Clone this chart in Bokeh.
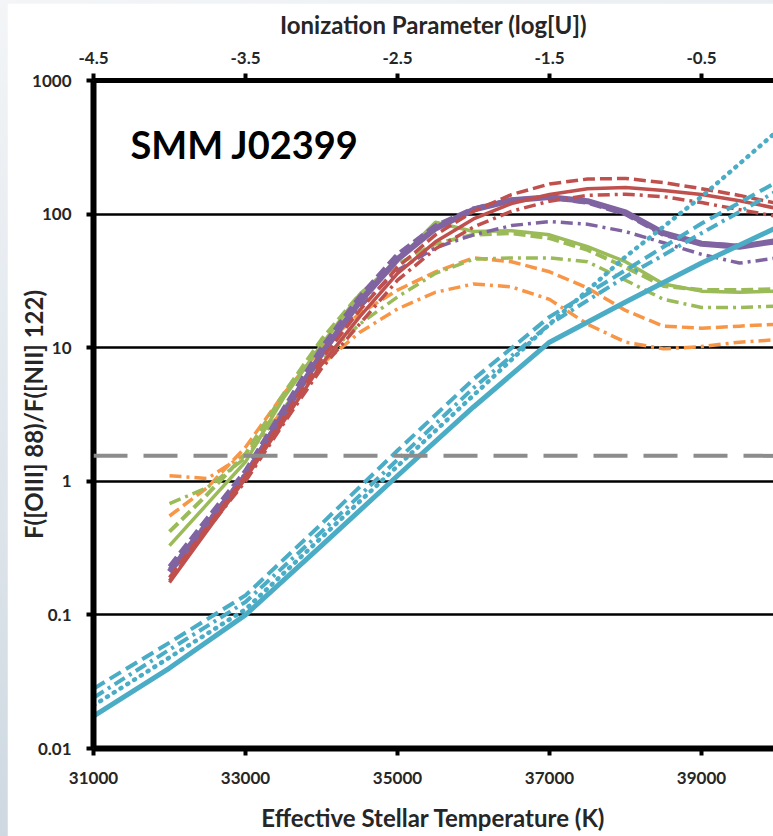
from bokeh.plotting import figure
from bokeh.models import Range1d, LinearAxis, FixedTicker, Label, Span, ColumnDataSource
from bokeh.layouts import column
from bokeh.embed import file_html
from bokeh.resources import INLINE

# ---------------- data ----------------
temps = [32000, 32500, 33000, 33500, 34000, 34500, 35000, 35500, 36000,
         36500, 37000, 37500, 38000, 38500, 39000, 39500, 40000]

red_solid = [0.175, 0.43, 1.05, 2.8, 7.5, 17, 36, 62, 92, 120, 140, 155, 158, 150, 140, 126, 110]
red_dashed = [0.19, 0.46, 1.1, 3.0, 8.2, 19, 40, 70, 105, 140, 168, 183, 185, 172, 155, 138, 120]
red_dashdot = [0.18, 0.44, 1.0, 2.7, 7.0, 15, 32, 55, 80, 105, 125, 138, 141, 135, 122, 108, 96]

purple_solid = [0.21, 0.48, 1.1, 3.2, 9, 22, 46, 78, 108, 127, 134, 125, 103, 72, 60, 57, 63]
purple_dashed = [0.23, 0.53, 1.2, 3.5, 10, 24, 50, 82, 110, 128, 133, 122, 100, 70, 60, 58, 62]
purple_dashdot = [0.22, 0.5, 1.15, 3.3, 9, 20, 38, 56, 70, 82, 88, 84, 74, 61, 50, 43, 47]

green_solid = [0.33, 0.68, 1.4, 4.2, 10.5, 25, 45, 87, 74, 75, 70, 57, 44, 30, 26.5, 26, 26.5]
green_dashed = [0.42, 0.8, 1.6, 4.5, 11.5, 25, 42, 60, 70, 72, 66, 54, 40, 29, 27, 27, 27.5]
green_dashdot = [0.68, 0.9, 1.5, 3.5, 8, 15, 24, 36, 46, 47, 47, 44, 32, 23, 20, 20, 20.5]

orange_dashed = [0.55, 0.9, 1.8, 4.5, 10, 18, 27, 37, 47, 44, 37, 28, 19, 14.5, 14, 14.5, 15]
orange_dashdot = [1.1, 1.05, 1.6, 3.4, 7.5, 13, 19.5, 26, 30, 28.5, 23, 15, 11, 9.8, 10.2, 11, 11.5]

cyan_temps = [31000, 32000, 33000, 34000, 35000, 36000, 37000, 38000, 39000, 40000]
cyan_solid = [0.0175, 0.040, 0.1, 0.33, 1.1, 3.6, 11, 22, 43, 80]
cyan_dotted = [0.021, 0.048, 0.11, 0.38, 1.3, 4.4, 15, 48, 135, 420]
cyan_dashdot = [0.024, 0.055, 0.125, 0.42, 1.45, 5.0, 15, 34, 72, 150]
cyan_dashed = [0.028, 0.062, 0.14, 0.48, 1.7, 5.8, 17, 38, 85, 175]

y_ticks = [0.01, 0.1, 1, 10, 100, 1000]
y_tick_labels = ["0.01", "0.1", "1", "10", "100", "1000"]
x_ticks = [31000, 33000, 35000, 37000, 39000]
u_ticks = [-4.5, -3.5, -2.5, -1.5, -0.5]
u_tick_labels = ["-4.5", "-3.5", "-2.5", "-1.5", "-0.5"]
threshold = 1.55

# ---------------- styles ----------------
RED = "#C0504D"
PURPLE = "#8064A2"
GREEN = "#9BBB59"
ORANGE = "#F79646"
CYAN = "#4BACC6"
FONT = "Lato"
DASH = "12 5"
DASHDOT = "12 5 3 5"

x_start, x_end = 31000, 39947
u_start = -4.5
u_end = u_start + (x_end - x_start) / 2000.0

p = figure(width=766, height=833, y_axis_type="log",
           x_range=Range1d(x_start, x_end), y_range=Range1d(0.01, 1000),
           output_backend="svg", toolbar_location=None,
           min_border_left=86, min_border_top=77, min_border_bottom=88,
           min_border_right=0, background_fill_color="white",
           border_fill_color="white", outline_line_color=None)

p.extra_x_ranges = {"logu": Range1d(u_start, u_end)}
top_axis = LinearAxis(x_range_name="logu", axis_label="Ionization Parameter (log[U])",
                      ticker=FixedTicker(ticks=u_ticks))
top_axis.major_label_overrides = {t: l for t, l in zip(u_ticks, u_tick_labels)}
p.add_layout(top_axis, "above")

bottom_axis = p.below[0]
bottom_axis.ticker = FixedTicker(ticks=x_ticks)
bottom_axis.axis_label = "Effective Stellar Temperature (K)"
left_axis = p.left[0]
left_axis.ticker = FixedTicker(ticks=y_ticks)
left_axis.major_label_overrides = {t: l for t, l in zip(y_ticks, y_tick_labels)}
left_axis.axis_label = "F([OIII] 88)/F([NII] 122)"

for ax in (top_axis, bottom_axis, left_axis):
    ax.axis_line_width = 6
    ax.axis_line_color = "black"
    ax.major_tick_line_width = 4
    ax.major_tick_line_color = "black"
    ax.major_tick_out = 7
    ax.major_tick_in = 0
    ax.minor_tick_line_color = None
    ax.major_label_text_font = FONT
    ax.major_label_text_font_style = "bold"
    ax.major_label_text_font_size = "17px"
    ax.major_label_text_color = "#262626"
    ax.axis_label_text_font = FONT
    ax.axis_label_text_font_style = "bold"
    ax.axis_label_text_font_size = "24px"
    ax.axis_label_text_color = "#262626"

top_axis.axis_line_width = 5
top_axis.major_label_standoff = 10
top_axis.axis_label_standoff = 10
bottom_axis.major_label_standoff = 16
bottom_axis.axis_label_standoff = 16
left_axis.major_label_standoff = 15
left_axis.axis_label_standoff = -19

p.xgrid.visible = False
p.ygrid.grid_line_color = "black"
p.ygrid.grid_line_width = 2.5

p.add_layout(Span(location=threshold, dimension="width", line_color="#8C8C8C",
                  line_width=4, line_dash="34 16"))


def draw(xs, ys, color, width, dash="solid", cap="butt"):
    src = ColumnDataSource(dict(x=xs, y=ys))
    p.line("x", "y", source=src, line_color=color, line_width=width,
           line_dash=dash, line_cap=cap, line_join="round")


draw(temps, orange_dashdot, ORANGE, 3.5, DASHDOT)
draw(temps, orange_dashed, ORANGE, 3.5, DASH)
draw(temps, green_dashdot, GREEN, 3.5, DASHDOT)
draw(temps, green_dashed, GREEN, 4, DASH)
draw(temps, green_solid, GREEN, 3.5)
draw(temps, purple_dashdot, PURPLE, 3.5, DASHDOT)
draw(temps, purple_dashed, PURPLE, 4.5, DASH)
draw(temps, purple_solid, PURPLE, 6)
draw(temps, red_dashdot, RED, 3.5, DASHDOT)
draw(temps, red_dashed, RED, 3.5, DASH)
draw(temps, red_solid, RED, 3.5)

draw(cyan_temps, cyan_dashed, CYAN, 4, "13 6")
draw(cyan_temps, cyan_dashdot, CYAN, 4, DASHDOT)
draw(cyan_temps, cyan_dotted, CYAN, 4.5, "1 7", "round")
draw(cyan_temps, cyan_solid, CYAN, 5)

p.add_layout(Label(x=31487, y=334, text="SMM J02399", text_font=FONT,
                   text_font_style="bold", text_font_size="38px",
                   text_color="black", text_baseline="alphabetic"))

layout = column(p, styles={
    "background": "linear-gradient(165deg, #f3f5f7 0%, #dde4ea 50%, #c4d1db 100%)",
    "padding-left": "7px", "padding-top": "3px"})

open("out.html", "w").write(file_html(layout, INLINE))
